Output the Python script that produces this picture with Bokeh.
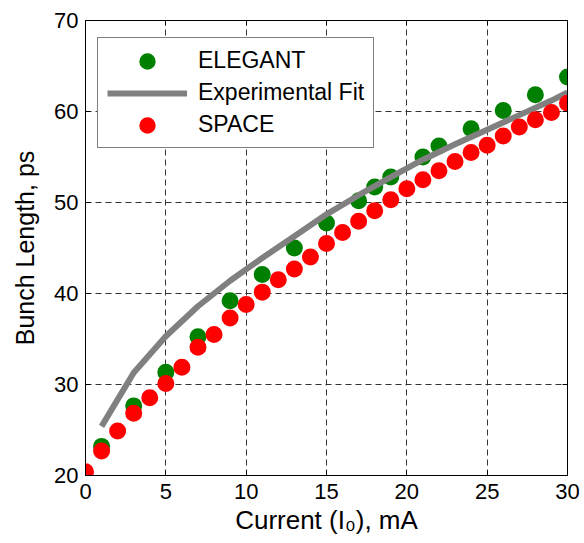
from bokeh.plotting import figure
from bokeh.models import LinearAxis, FixedTicker, Legend, LegendItem, Range1d
from bokeh.embed import file_html
from bokeh.resources import INLINE

# ---- data ----
space_x = list(range(0, 31))
space_y = [20.4, 22.7, 24.9, 26.85, 28.55, 30.1, 31.9, 34.1, 35.5, 37.3, 38.8,
           40.15, 41.5, 42.7, 44.0, 45.5, 46.7, 47.95, 49.1, 50.3, 51.5,
           52.5, 53.5, 54.5, 55.5, 56.3, 57.3, 58.3, 59.1, 59.9, 60.9]

elegant_x = [1, 3, 5, 7, 9, 11, 13, 15, 17, 18, 19, 21, 22, 24, 26, 28, 30]
elegant_y = [23.2, 27.65, 31.35, 35.25, 39.2, 42.1, 45.0, 47.75, 50.2, 51.7,
             52.8, 55.0, 56.2, 58.1, 60.1, 61.85, 63.8]

fit_x = [1, 3, 5, 7, 9, 11, 13, 15, 17, 19, 21, 23, 25, 27, 29, 30]
fit_y = [25.4, 31.3, 35.3, 38.6, 41.4, 43.9, 46.3, 48.7, 50.8, 52.8, 54.7,
         56.4, 58.0, 59.6, 61.2, 62.1]

x_ticks = [0, 5, 10, 15, 20, 25, 30]
y_ticks = [20, 30, 40, 50, 60, 70]

FONT = "Liberation Sans"

p = figure(width=584, height=543, output_backend="svg", toolbar_location=None,
           x_range=Range1d(0, 30), y_range=Range1d(20, 70),
           min_border_left=85, min_border_right=17, min_border_top=20,
           min_border_bottom=68)
p.background_fill_color = "white"
p.border_fill_color = "white"
p.outline_line_color = "black"
p.outline_line_width = 1

# grid
for g in (p.xgrid[0], p.ygrid[0]):
    g.grid_line_color = "#333333"
    g.grid_line_dash = "6 4"
    g.grid_line_width = 1
p.xgrid[0].ticker = FixedTicker(ticks=x_ticks)
p.ygrid[0].ticker = FixedTicker(ticks=y_ticks)

def style_axis(ax, ticks):
    ax.ticker = FixedTicker(ticks=ticks)
    ax.major_tick_in = 5
    ax.major_tick_out = 0
    ax.minor_tick_line_color = None
    ax.axis_line_color = "black"
    ax.major_tick_line_color = "black"
    ax.major_label_text_font = FONT
    ax.major_label_text_font_size = "22px"
    ax.major_label_text_color = "black"
    ax.axis_label_text_font = FONT
    ax.axis_label_text_font_size = "25px"
    ax.axis_label_text_font_style = "normal"
    ax.axis_label_text_color = "black"

def mirror_axis(ax, ticks):
    # tick marks only (drawn as minor ticks, which carry no labels)
    ax.ticker = FixedTicker(ticks=[], minor_ticks=ticks)
    ax.major_tick_line_color = None
    ax.minor_tick_in = 5
    ax.minor_tick_out = 0
    ax.minor_tick_line_color = "black"
    ax.axis_line_color = "black"
    ax.major_label_standoff = 0

style_axis(p.xaxis[0], x_ticks)
style_axis(p.yaxis[0], y_ticks)
p.xaxis[0].axis_label = "Current (I\u2080), mA"
p.yaxis[0].axis_label = "Bunch Length, ps"
p.xaxis[0].axis_label_text_font_size = "26px"
p.xaxis[0].major_label_standoff = 8
p.xaxis[0].axis_label_standoff = 3
p.yaxis[0].major_label_standoff = 7
p.yaxis[0].axis_label_standoff = 12

top = LinearAxis()
right = LinearAxis()
mirror_axis(top, x_ticks)
mirror_axis(right, y_ticks)
p.add_layout(top, "above")
p.add_layout(right, "right")

r_el = p.scatter(elegant_x, elegant_y, size=11, color="#008000",
                 line_color="#008000", line_width=6)
r_fit = p.line(fit_x, fit_y, line_width=6, color="#808080")
r_sp = p.scatter(space_x, space_y, size=11, color="#ff0000",
                 line_color="#ff0000", line_width=6)

legend = Legend(items=[LegendItem(label="ELEGANT", renderers=[r_el]),
                       LegendItem(label="Experimental Fit", renderers=[r_fit]),
                       LegendItem(label="SPACE", renderers=[r_sp])],
                location=(12, 327))
legend.label_text_font = FONT
legend.label_text_font_size = "23px"
legend.label_text_color = "black"
legend.glyph_width = 80
legend.glyph_height = 26
legend.label_height = 26
legend.spacing = 5
legend.padding = 9
legend.margin = 0
legend.label_standoff = 11
legend.border_line_color = "black"
legend.border_line_width = 1
legend.background_fill_color = "white"
legend.background_fill_alpha = 1
p.add_layout(legend, "center")

open("out.html", "w").write(file_html(p, INLINE))
